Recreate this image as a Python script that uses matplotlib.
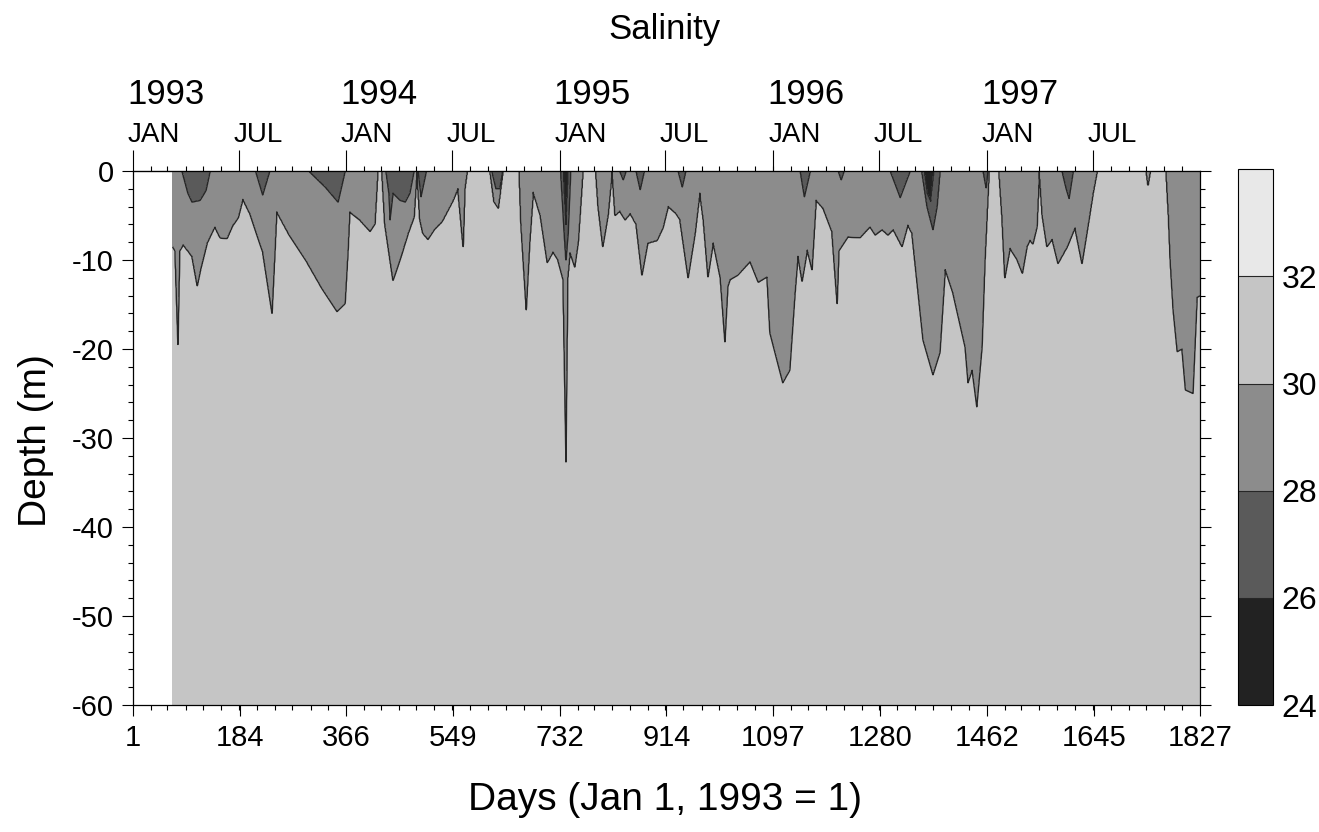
import numpy as np
import pandas as pd
import matplotlib
matplotlib.use('Agg')
import matplotlib.pyplot as plt
import matplotlib.transforms as mtransforms

plt.rcParams['font.family'] = ['Liberation Sans', 'DejaVu Sans']
plt.rcParams['axes.unicode_minus'] = False

# depth (m) of the 30 isohaline, day by day (0 = no fresh layer at the surface)
d30_day = [69, 73, 78, 81, 87, 102, 111, 117, 128, 141, 150, 162, 172, 181, 189, 201,
           223, 239, 244, 247, 270, 299, 326, 350, 364, 369, 372, 389, 407, 415, 420,
           427, 432, 446, 458, 472, 482, 487, 492, 497, 506, 518, 530, 549, 557, 566,
           569, 573, 612, 619, 626, 634, 662, 665, 674, 680, 686, 698, 710, 720, 728,
           737, 742, 745, 749, 757, 763, 768, 771, 793, 797, 805, 814, 821, 826, 834,
           843, 852, 862, 872, 882, 898, 908, 917, 929, 937, 951, 963, 971, 977, 985,
           994, 1006, 1014, 1019, 1023, 1036, 1057, 1071, 1086, 1091, 1102, 1113, 1125,
           1134, 1139, 1146, 1155, 1163, 1170, 1182, 1197, 1206, 1209, 1225, 1245, 1262,
           1271, 1283, 1293, 1302, 1317, 1327, 1334, 1353, 1370, 1382, 1391, 1404, 1425,
           1430, 1437, 1445, 1454, 1459, 1466, 1483, 1488, 1493, 1502, 1514, 1523, 1531,
           1536, 1541, 1548, 1552, 1557, 1565, 1574, 1584, 1600, 1613, 1625, 1635, 1644,
           1651, 1735, 1738, 1742, 1769, 1773, 1776, 1781, 1788, 1796, 1802, 1815, 1822,
           1827]
d30_depth = [8.5, 9.0, 19.5, 9.0, 8.3, 9.6, 12.9, 11.0, 8.1, 6.3, 7.5, 7.6, 6.1, 5.3, 3.2, 4.8,
             9.1, 16.0, 9.0, 4.6, 7.4, 10.3, 13.4, 15.8, 14.9, 9.0, 4.6, 5.5, 6.8, 6.0, 0.0,
             0.0, 6.0, 12.3, 10.0, 7.0, 5.2, 0.0, 5.5, 7.0, 7.7, 6.5, 5.7, 3.3, 2.0, 8.5,
             2.0, 0.0, 0.0, 3.5, 4.2, 0.0, 0.0, 6.0, 15.6, 8.0, 2.4, 5.0, 10.3, 9.1, 10.0,
             12.2, 32.7, 12.0, 9.2, 10.8, 8.0, 3.0, 0.0, 0.0, 4.0, 8.5, 5.0, 0.0, 5.0, 4.5,
             5.5, 4.8, 6.0, 11.7, 8.1, 7.8, 6.4, 4.0, 4.7, 5.5, 12.0, 7.0, 2.5, 5.5, 11.9,
             8.1, 12.0, 19.2, 13.0, 12.2, 11.7, 10.2, 12.5, 11.9, 18.2, 21.0, 23.8, 22.4,
             13.7, 9.6, 12.4, 8.9, 11.1, 3.3, 4.2, 6.8, 14.9, 9.0, 7.4, 7.5, 6.3,
             7.2, 6.6, 7.2, 6.6, 8.5, 6.1, 7.0, 19.0, 22.9, 20.4, 11.1, 13.7, 19.8,
             23.8, 22.4, 26.5, 19.8, 10.0, 0.0, 0.0, 5.0, 12.0, 8.7, 10.0, 11.5, 8.5,
             7.8, 8.2, 6.3, 0.0, 5.0, 8.5, 7.7, 10.4, 8.5, 6.4, 10.4, 6.3, 2.5,
             0.0, 0.0, 1.6, 0.0, 0.0, 5.0, 10.0, 15.6, 20.3, 20.0, 24.6, 25.0, 14.2,
             14.0]

# pockets below 28 near the surface
d28_day = [85, 95, 102, 116, 126, 133,
           211, 223, 235,
           302, 330, 352, 364,
           434, 439, 441, 446, 458, 467, 475, 482, 489, 494, 503,
           615, 622, 629, 634,
           733, 738, 742, 746, 750,
           834, 840, 845,
           862, 869, 876,
           934, 941, 947,
           1143, 1150, 1160,
           1208, 1213, 1218,
           1297, 1314, 1331,
           1351, 1360, 1370, 1377, 1382,
           1456, 1461, 1464,
           1591, 1598, 1603, 1610]
d28_depth = [0.0, 2.5, 3.5, 3.3, 2.2, 0.0,
             0.0, 2.7, 0.0,
             0.0, 1.8, 3.5, 0.0,
             0.0, 2.5, 5.5, 2.5, 3.3, 3.5, 2.5, 0.0, 0.0, 2.9, 0.0,
             0.0, 2.0, 2.0, 0.0,
             0.0, 6.0, 10.0, 7.0, 0.0,
             0.0, 1.0, 0.0,
             0.0, 2.1, 0.0,
             0.0, 1.8, 0.0,
             0.0, 2.9, 0.0,
             0.0, 1.0, 0.0,
             0.0, 3.0, 0.0,
             0.0, 4.0, 6.6, 4.0, 0.0,
             0.0, 1.9, 0.0,
             0.0, 2.0, 3.1, 0.0]

# the freshest water, below 26
d26_day = [737, 741, 742, 746, 1355, 1360, 1366, 1372]
d26_depth = [0.0, 5.0, 6.0, 0.0, 0.0, 2.5, 3.4, 0.0]

levels = [24, 26, 28, 30, 32, 34]
shades = ['#222222', '#5a5a5a', '#8c8c8c', '#c5c5c5', '#e8e8e8']
deep_salinity = 31.5

# daily grid for the contouring
days = np.union1d(np.arange(d30_day[0], 1828), np.union1d(d28_day, d26_day))
z = np.linspace(0, 60, 601)

h30 = np.interp(days, d30_day, d30_depth)
h28 = np.interp(days, d28_day, d28_depth, left=0, right=0)
h26 = np.interp(days, d26_day, d26_depth, left=0, right=0)
# an isohaline that does not reach the water sits just above the surface
h30 = np.where(h30 > 0, h30, -0.3)
h28 = np.where(h28 > 0, np.minimum(h28, h30 - 0.2), np.minimum(h30, 0) - 0.3)
h26 = np.where(h26 > 0, np.minimum(h26, h28 - 0.2), np.minimum(h28, 0) - 0.3)

sal = np.empty((len(z), len(days)))
for j in range(len(days)):
    sal[:, j] = np.interp(z, [h26[j], h28[j], h30[j], 60], [26, 28, 30, deep_salinity])

fig = plt.figure(figsize=(13.19, 8.32), dpi=100)
ax = fig.add_axes([0.1008, 0.1526, 0.809, 0.642])

cf = ax.contourf(days, -z, sal, levels=levels, colors=shades)
ax.contour(days, -z, sal, levels=[26, 28, 30], colors='0.15', linewidths=1.0)

ax.set_xlim(1, 1827)
ax.set_ylim(-60, 0)

month_start = (pd.date_range('1993-01-01', '1997-12-01', freq='MS')
               - pd.Timestamp('1993-01-01')).days + 1
ax.set_xticks([1, 184, 366, 549, 732, 914, 1097, 1280, 1462, 1645, 1827])
ax.set_xticks(month_start, minor=True)
ax.set_yticks(range(-60, 1, 10))
ax.set_yticks(range(-60, 1, 2), minor=True)
ax.tick_params(which='both', direction='out', right=True, labelsize=21, width=0.8)
ax.tick_params(which='major', length=8, pad=6)
ax.tick_params(which='minor', length=3.5)
for s in ax.spines.values():
    s.set_linewidth(0.9)

# calendar along the top
jan_jul = [1, 182, 366, 547, 731, 912, 1097, 1278, 1462, 1643]
mon_names = ['JAN', 'JUL'] * 5
years = ['1993', '1994', '1995', '1996', '1997']
top = ax.secondary_xaxis('top')
top.set_xticks(jan_jul, labels=[])
top.set_xticks(month_start, minor=True)
top.tick_params(which='major', direction='out', length=15, width=0.8)
top.tick_params(which='minor', direction='out', length=3.5, width=0.8)

trans = mtransforms.blended_transform_factory(ax.transData, ax.transAxes)
for d, m in zip(jan_jul, mon_names):
    ax.text(d - 9, 1.068, m, transform=trans, ha='left', va='center', fontsize=20)
for d, y in zip(jan_jul[::2], years):
    ax.text(d - 10, 1.143, y, transform=trans, ha='left', va='center', fontsize=25)

fig.text(0.504, 0.964, 'Salinity', ha='center', va='center', fontsize=25)
fig.text(0.504, 0.0385, 'Days (Jan 1, 1993 = 1)', ha='center', va='center', fontsize=28)
fig.text(0.027, 0.471, 'Depth (m)', ha='center', va='center', rotation=90, fontsize=28)

cax = fig.add_axes([0.9386, 0.1526, 0.0265, 0.644])
cb = fig.colorbar(cf, cax=cax, ticks=[24, 26, 28, 30, 32], drawedges=True)
cb.ax.tick_params(length=0, labelsize=23, pad=6)
cb.outline.set_linewidth(0.8)
cb.dividers.set_color('0.15')
cb.dividers.set_linewidth(0.8)

fig.savefig('out.png', dpi=100)
